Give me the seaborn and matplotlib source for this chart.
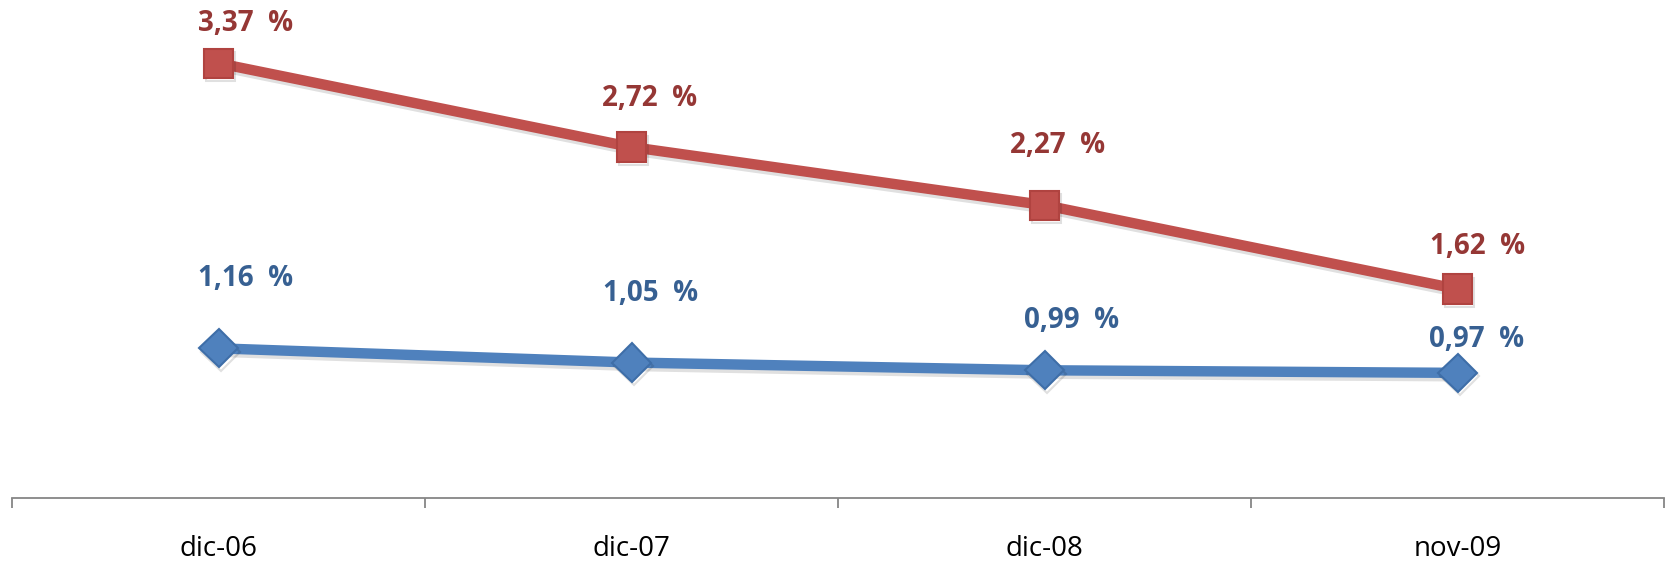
import matplotlib
matplotlib.use("Agg")
import matplotlib.pyplot as plt
import matplotlib.patheffects as pe
import seaborn as sns
import pandas as pd

categories = ["dic-06", "dic-07", "dic-08", "nov-09"]
red_values = [3.37, 2.72, 2.27, 1.62]
blue_values = [1.16, 1.05, 0.99, 0.97]

# label offsets in pixels (layout only)
red_offsets = [(27, 40), (18, 49), (13, 60), (20, 42)]
blue_offsets = [(27, 70), (19, 69), (27, 50), (19, 33)]

sns.set_theme(style="white")
plt.rcParams['font.family'] = ['Open Sans', 'DejaVu Sans']

df = pd.DataFrame({
    "cat": categories * 2,
    "pos": list(range(len(categories))) * 2,
    "val": red_values + blue_values,
    "serie": ["red"] * len(categories) + ["blue"] * len(categories),
})

W, H = 1670, 564
fig = plt.figure(figsize=(W / 100, H / 100), dpi=100)
ax = fig.add_axes([12 / W, (H - 498) / H, (1664 - 12) / W, 498 / H])

shadow = [pe.SimpleLineShadow(offset=(1.5, -2.5), shadow_color="#000000", alpha=0.12), pe.Normal()]

red_df = df[df.serie == "red"]
blue_df = df[df.serie == "blue"]
sns.lineplot(data=red_df, x="pos", y="val", ax=ax, color="#C0504D", lw=7.5,
             marker="s", markersize=21, markerfacecolor="#C0504D",
             markeredgecolor="#B04340", markeredgewidth=1.5,
             path_effects=shadow, zorder=3)
sns.lineplot(data=blue_df, x="pos", y="val", ax=ax, color="#4F81BD", lw=7.5,
             marker="D", markersize=19.5, markerfacecolor="#4F81BD",
             markeredgecolor="#3E6EA8", markeredgewidth=1.5,
             path_effects=shadow, zorder=3)

px2pt = 72 / 100
for i, v in enumerate(red_values):
    dx, dy = red_offsets[i]
    ax.annotate(f"{v:.2f}".replace(".", ",") + "  %", (i, v),
                xytext=(dx * px2pt, dy * px2pt), textcoords="offset points",
                ha="center", va="center", fontsize=20, fontweight="bold",
                color="#953735")
for i, v in enumerate(blue_values):
    dx, dy = blue_offsets[i]
    ax.annotate(f"{v:.2f}".replace(".", ",") + "  %", (i, v),
                xytext=(dx * px2pt, dy * px2pt), textcoords="offset points",
                ha="center", va="center", fontsize=20, fontweight="bold",
                color="#376092")

ax.set_xlim(-0.5, len(categories) - 0.5)
ax.set_ylim(0, 3.86)
ax.set_xlabel("")
ax.set_ylabel("")
ax.set_yticks([])
ax.set_xticks(range(len(categories)))
ax.set_xticklabels(categories, fontsize=20, color="#000000")
ax.set_xticks([i - 0.5 for i in range(len(categories) + 1)], minor=True)
ax.tick_params(axis="x", which="major", length=0, pad=27)
ax.tick_params(axis="x", which="minor", length=7, width=1.3, color="#868686",
               direction="out", bottom=True)
for s in ["top", "left", "right"]:
    ax.spines[s].set_visible(False)
ax.spines["bottom"].set_color("#868686")
ax.spines["bottom"].set_linewidth(1.3)
ax.grid(False)

fig.savefig("out.png", dpi=100)
